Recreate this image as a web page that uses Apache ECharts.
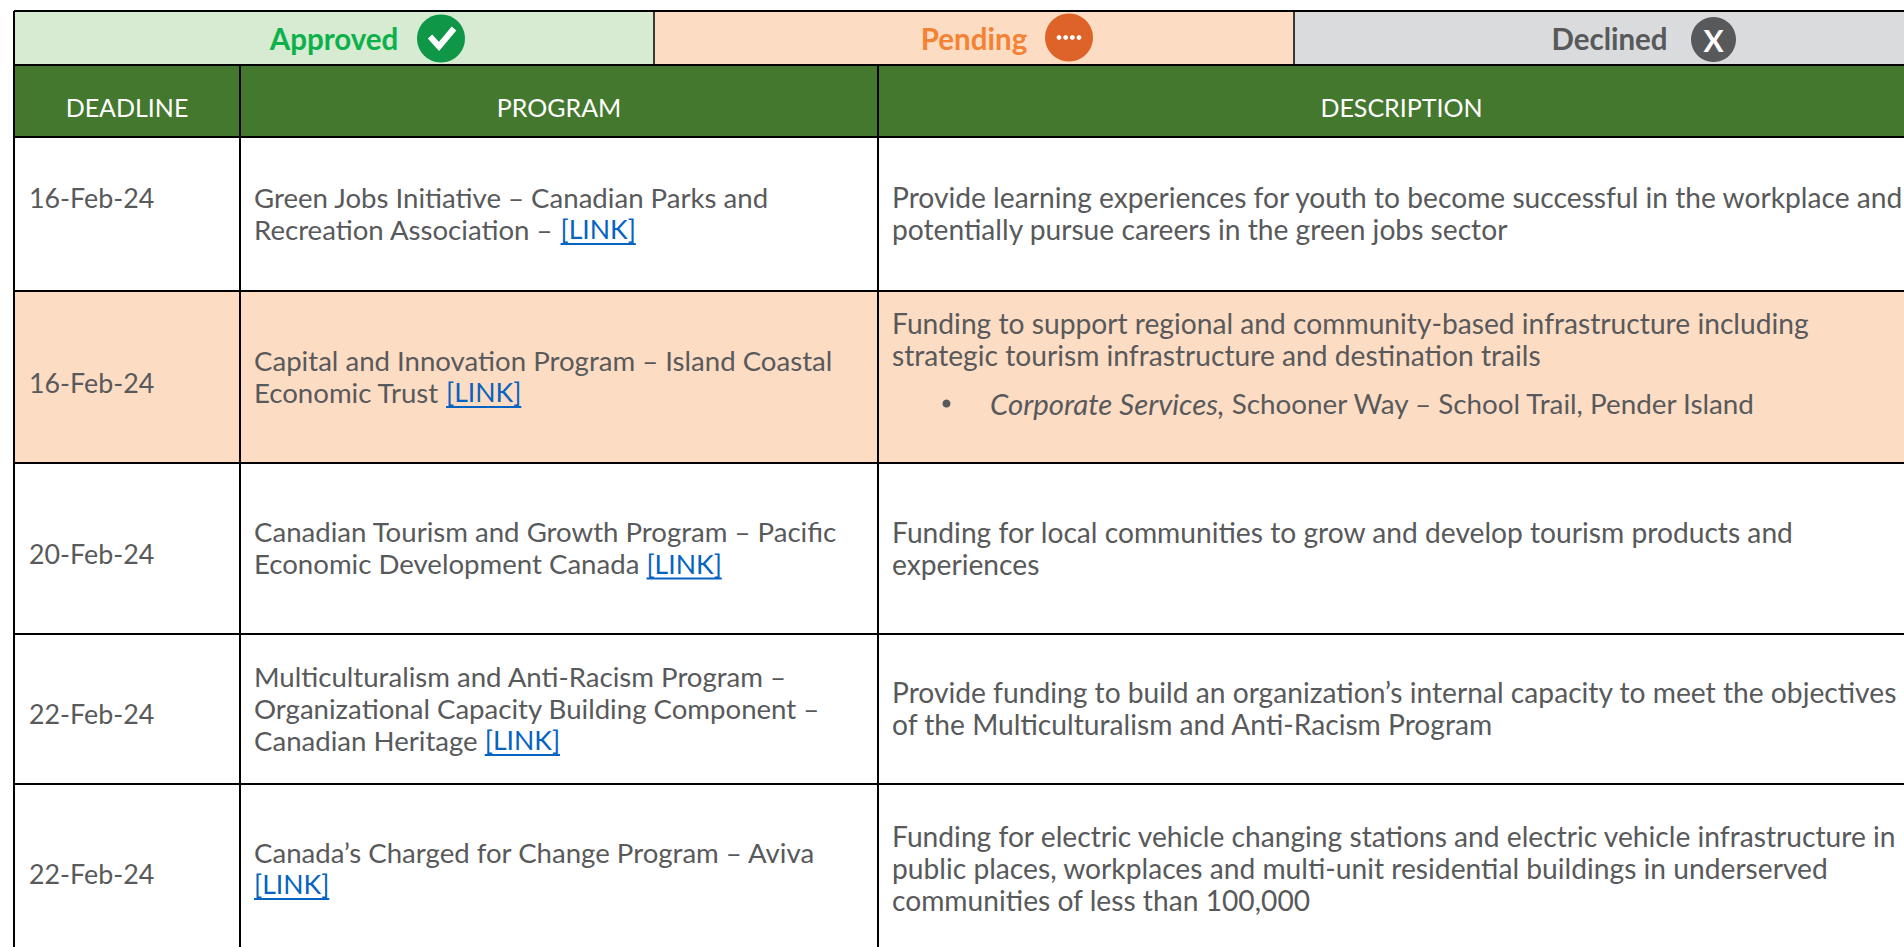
<!DOCTYPE html>
<html>
<head>
<meta charset="utf-8">
<title>Funding programs</title>
<style>
html, body { margin: 0; padding: 0; background: #fff; }
#chart_container { width: 1904px; height: 947px; }
</style>
<script src="https://cdn.jsdelivr.net/npm/echarts@6/dist/echarts.min.js"></script>
</head>
<body>
<div id="chart_container"></div>
<script>
// table content
const statuses = ['Approved', 'Pending', 'Declined'];
const headers = ['DEADLINE', 'PROGRAM', 'DESCRIPTION'];
const deadlines = ['16-Feb-24', '16-Feb-24', '20-Feb-24', '22-Feb-24', '22-Feb-24'];
const rowStatus = [null, 'Pending', null, null, null];
const programs = [
    ['Green Jobs Initiative – Canadian Parks and', 'Recreation Association – '],
    ['Capital and Innovation Program – Island Coastal', 'Economic Trust '],
    ['Canadian Tourism and Growth Program – Pacific', 'Economic Development Canada '],
    ['Multiculturalism and Anti-Racism Program –', 'Organizational Capacity Building Component –', 'Canadian Heritage '],
    ['Canada’s Charged for Change Program – Aviva', ''],
];
const linkLabel = '[LINK]';
const descriptions = [
    ['Provide learning experiences for youth to become successful in the workplace and', 'potentially pursue careers in the green jobs sector'],
    ['Funding to support regional and community-based infrastructure including', 'strategic tourism infrastructure and destination trails'],
    ['Funding for local communities to grow and develop tourism products and', 'experiences'],
    ['Provide funding to build an organization’s internal capacity to meet the objectives', 'of the Multiculturalism and Anti-Racism Program'],
    ['Funding for electric vehicle changing stations and electric vehicle infrastructure in', 'public places, workplaces and multi-unit residential buildings in underserved', 'communities of less than 100,000'],
];
const bulletItalic = 'Corporate Services,';
const bulletPlain = ' Schooner Way – School Trail, Pender Island';

// layout, in axis units
const statusEdges = [14, 654, 1294, 1925];
const columnEdges = [14, 240, 878, 1925];
const rowEdges = [137, 291, 463, 634, 784, 954];
const bandTop = 11, bandBottom = 65;
const deadlineY = [198, 383, 554, 714, 874];
const lineStep = 32;
const descTopRow2 = 323;
const bulletY = 403;
const textShift = -1;

const FONT = 'Lato';
const DEADLINE_FONT = `26.8px ${FONT}`;
const PROGRAM_FONT = `27.6px ${FONT}`;
const DESC_FONT = `28.2px ${FONT}`;
const LINK_FONT = `26.6px ${FONT}`;
const BULLET_ITALIC_FONT = `italic 29.4px ${FONT}`;
const BULLET_FONT = `27.8px ${FONT}`;
const GREY = '#58595b';
const colors = {
    Approved: {fill: '#d6ebd1', text: '#0db14b', icon: '#0f9647'},
    Pending: {fill: '#fddcc4', text: '#f58233', icon: '#de6328'},
    Declined: {fill: '#dadbdd', text: '#58595b', icon: '#58595b'},
};

const ctx = document.createElement('canvas').getContext('2d');
function textWidth(s, font) {
    ctx.font = font;
    return ctx.measureText(s).width;
}

// fills
const cells = [];
statuses.forEach((s, i) => cells.push([statusEdges[i], bandTop, statusEdges[i + 1], bandBottom, colors[s].fill]));
headers.forEach((h, i) => cells.push([columnEdges[i], bandBottom, columnEdges[i + 1], rowEdges[0], '#44782f']));
deadlines.forEach((d, i) => {
    cells.push([columnEdges[0], rowEdges[i], columnEdges[3], rowEdges[i + 1], rowStatus[i] ? colors[rowStatus[i]].fill : '#fff']);
});

// rules: x0, y0, x1, y1, width
const rules = [];
rules.push([14, bandTop, 1925, bandTop, 2]);
rules.push([14, bandBottom, 1925, bandBottom, 2]);
rowEdges.forEach(y => rules.push([14, y, 1925, y, 2]));
rules.push([14, bandTop, 14, 954, 2]);
rules.push([statusEdges[1], bandTop, statusEdges[1], bandBottom, 1.5]);
rules.push([statusEdges[2], bandTop, statusEdges[2], bandBottom, 1.5]);
rules.push([columnEdges[1], bandBottom, columnEdges[1], 954, 2]);
rules.push([columnEdges[2], bandBottom, columnEdges[2], 954, 2]);

// text runs
const runs = [];
const underlines = [];
function addRun(x, y, text, font, fill, align) {
    runs.push({x, y, text, font, fill, align: align || 'left'});
}
statuses.forEach((s, i) => {
    addRun((statusEdges[i] + statusEdges[i + 1]) / 2, 38.5, s, `bold 29.5px ${FONT}`, colors[s].text, 'center');
});
headers.forEach((h, i) => {
    addRun((columnEdges[i] + columnEdges[i + 1]) / 2, 106.5, h, `25px ${FONT}`, '#fff', 'center');
});
deadlines.forEach((d, i) => addRun(29, deadlineY[i], d, DEADLINE_FONT, GREY));
programs.forEach((lines, i) => {
    const mid = (rowEdges[i] + rowEdges[i + 1]) / 2 + textShift;
    lines.forEach((line, j) => {
        const y = mid + (j - (lines.length - 1) / 2) * lineStep;
        if (line) addRun(254, y, line, PROGRAM_FONT, GREY);
        if (j === lines.length - 1) {
            const x = 254 + textWidth(line, PROGRAM_FONT);
            addRun(x, y, linkLabel, LINK_FONT, '#0563c1');
            underlines.push([x, y + 15, x + textWidth(linkLabel, LINK_FONT), y + 15, 2]);
        }
    });
});
descriptions.forEach((lines, i) => {
    const mid = (rowEdges[i] + rowEdges[i + 1]) / 2 + textShift;
    lines.forEach((line, j) => {
        const y = i === 1 ? descTopRow2 + j * lineStep : mid + (j - (lines.length - 1) / 2) * lineStep;
        addRun(892, y, line, DESC_FONT, GREY);
    });
});
addRun(990, bulletY, bulletItalic, BULLET_ITALIC_FONT, GREY);
addRun(990 + textWidth(bulletItalic, BULLET_ITALIC_FONT), bulletY, bulletPlain, BULLET_FONT, GREY);

// status icons: x, y, radius, status
const icons = [[441, 38.5, 24, 'Approved'], [1069, 37.5, 24, 'Pending'], [1713.5, 39.5, 22.5, 'Declined']];

function renderCell(params, api) {
    const c = cells[params.dataIndex];
    const p0 = api.coord([c[0], c[1]]);
    const p1 = api.coord([c[2], c[3]]);
    return {type: 'rect', shape: {x: p0[0], y: p0[1], width: p1[0] - p0[0], height: p1[1] - p0[1]}, style: {fill: c[4]}};
}

function makeLineRender(list, color) {
    return function (params, api) {
        const r = list[params.dataIndex];
        const p0 = api.coord([r[0], r[1]]);
        const p1 = api.coord([r[2], r[3]]);
        return {type: 'line', shape: {x1: p0[0], y1: p0[1], x2: p1[0], y2: p1[1]}, style: {stroke: color, lineWidth: r[4]}};
    };
}

function renderRun(params, api) {
    const t = runs[params.dataIndex];
    const p = api.coord([t.x, t.y]);
    return {type: 'text', x: p[0], y: p[1], style: {text: t.text, font: t.font, fill: t.fill, align: t.align, verticalAlign: 'middle'}};
}

function renderIcon(params, api) {
    const ic = icons[params.dataIndex];
    const p = api.coord([ic[0], ic[1]]);
    const r = ic[2];
    const children = [{type: 'circle', shape: {cx: 0, cy: 0, r}, style: {fill: colors[ic[3]].icon}}];
    if (ic[3] === 'Approved') {
        children.push({type: 'polyline', shape: {points: [[-11, -2], [-2, 8], [13, -10]]}, style: {stroke: '#fff', lineWidth: 6, fill: null}});
    } else if (ic[3] === 'Pending') {
        [-10, -3.3, 3.3, 10].forEach(dx => children.push({type: 'circle', shape: {cx: dx, cy: 0, r: 2.4}, style: {fill: '#fff'}}));
    } else {
        children.push({type: 'text', x: 0, y: 0, style: {text: 'X', font: `bold 30px ${FONT}`, fill: '#fff', align: 'center', verticalAlign: 'middle'}});
    }
    return {type: 'group', x: p[0], y: p[1], children};
}

function customSeries(name, list, renderItem, z) {
    return {
        name,
        type: 'custom',
        coordinateSystem: 'cartesian2d',
        clip: false,
        silent: true,
        z,
        renderItem,
        encode: {x: 0, y: 1},
        data: list.map(d => Array.isArray(d) ? [d[0], d[1]] : [d.x, d.y]),
    };
}

const chart = echarts.init(document.getElementById('chart_container'), null, {renderer: 'svg'});
chart.setOption({
    animation: false,
    backgroundColor: '#fff',
    grid: {left: 0, right: 0, top: 0, bottom: 0},
    xAxis: {type: 'value', min: 0, max: 1904, show: false},
    yAxis: {type: 'value', min: 0, max: 947, inverse: true, show: false},
    series: [
        customSeries('cells', cells, renderCell, 1),
        customSeries('rules', rules, makeLineRender(rules, '#000'), 2),
        customSeries('icons', icons, renderIcon, 3),
        customSeries('text', runs, renderRun, 4),
        customSeries('links', underlines, makeLineRender(underlines, '#0563c1'), 4),
        customSeries('bullet', [[946.5, 403.5]], function (params, api) {
            const p = api.coord([946.5, 403.5]);
            return {type: 'circle', shape: {cx: p[0], cy: p[1], r: 4}, style: {fill: GREY}};
        }, 4),
    ],
});
</script>
</body>
</html>
